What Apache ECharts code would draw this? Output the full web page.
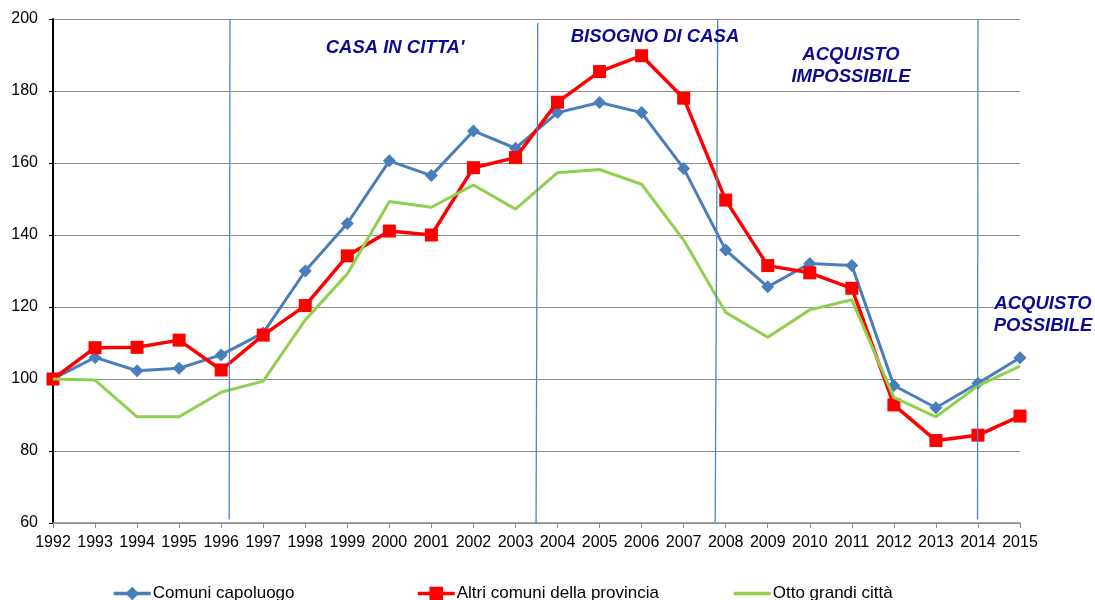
<!DOCTYPE html>
<html>
<head>
<meta charset="utf-8">
<script src="https://cdn.jsdelivr.net/npm/echarts@6/dist/echarts.min.js"></script>
<style>
  html, body { margin: 0; padding: 0; background: #fff; }
  #chart { width: 1095px; height: 600px; }
</style>
</head>
<body>
<div id="chart"></div>
<script>
// Indice dei prezzi delle abitazioni (1992 = 100)
const years = [1992, 1993, 1994, 1995, 1996, 1997, 1998, 1999, 2000, 2001, 2002, 2003,
               2004, 2005, 2006, 2007, 2008, 2009, 2010, 2011, 2012, 2013, 2014, 2015];

const comuniCapoluogo = [100, 106.0, 102.3, 103.0, 106.7, 112.8, 130.0, 143.2, 160.6, 156.5, 168.9, 164.1,
                         174.0, 176.8, 174.0, 158.5, 135.8, 125.6, 132.1, 131.5, 98.2, 92.0, 98.8, 105.9];

const altriComuni = [100, 108.7, 108.8, 110.8, 102.5, 112.2, 120.4, 134.2, 141.1, 140.0, 158.7, 161.5,
                     176.9, 185.4, 189.8, 178.0, 149.7, 131.5, 129.5, 125.2, 92.8, 82.9, 84.4, 89.7];

const ottoGrandiCitta = [100, 99.7, 89.5, 89.5, 96.3, 99.4, 116.4, 129.2, 149.3, 147.7, 153.9, 147.2,
                         157.3, 158.2, 154.1, 138.6, 118.5, 111.6, 119.2, 122.0, 94.9, 89.5, 98.1, 103.6];

const seriesNames = ['Comuni capoluogo', 'Altri comuni della provincia', 'Otto grandi città'];

// Separatori verticali tra le fasi: [anno in alto, valore in alto, anno in basso, valore in basso]
const phaseDividers = [
  [1996.21, 200.0, 1996.19, 61.0],
  [2003.53, 198.9, 2003.49, 60.0],
  [2007.81, 199.7, 2007.75, 60.3],
  [2014.00, 200.0, 2013.99, 61.0]
];

const phaseLabels = [
  { text: "CASA IN CITTA'", x: 395, y: 48 },
  { text: 'BISOGNO DI CASA', x: 655, y: 37 },
  { text: 'ACQUISTO\nIMPOSSIBILE', x: 851, y: 66 },
  { text: 'ACQUISTO\nPOSSIBILE', x: 1043, y: 315 }
];

const toPairs = arr => years.map((y, i) => [y, arr[i]]);

const chart = echarts.init(document.getElementById('chart'), null, { renderer: 'canvas' });

const font = 'Arial, "Liberation Sans", sans-serif';

chart.setOption({
  animation: false,
  backgroundColor: '#ffffff',
  grid: { left: 53, right: 75, top: 19, bottom: 77, containLabel: false },
  xAxis: {
    type: 'value',
    min: 1992,
    max: 2015,
    interval: 1,
    axisLine: { show: true, lineStyle: { color: '#8c8c8c', width: 1.5 } },
    axisTick: { show: true, length: 5, lineStyle: { color: '#8c8c8c' } },
    axisLabel: { color: '#000', fontSize: 16, fontFamily: font, margin: 12, formatter: v => String(v) },
    splitLine: { show: false }
  },
  yAxis: {
    type: 'value',
    min: 60,
    max: 200,
    interval: 20,
    axisLine: { show: true, lineStyle: { color: '#000', width: 2 } },
    axisTick: { show: true, length: 4, lineStyle: { color: '#000' } },
    axisLabel: { color: '#000', fontSize: 16, fontFamily: font, margin: 15 },
    splitLine: { show: true, lineStyle: { color: '#8c8c8c', width: 1.2 } }
  },
  legend: [
    { data: [seriesNames[0]], left: 112, top: 585 },
    { data: [seriesNames[1]], left: 416, top: 585 },
    { data: [{ name: seriesNames[2], itemStyle: { opacity: 0 } }], left: 732, top: 585 }
  ].map(l => Object.assign(l, {
    itemWidth: 37, itemHeight: 17, itemGap: 0, padding: 0,
    lineStyle: { width: 3.5 },
    textStyle: { color: '#000', fontSize: 17, fontFamily: font, padding: [0, 0, 0, -3] }
  })),
  graphic: phaseLabels.map(p => ({
    type: 'text',
    x: p.x,
    y: p.y,
    z: 100,
    style: {
      text: p.text,
      fill: '#0c0c92',
      font: 'italic bold 18.5px Arial, "Liberation Sans", sans-serif',
      align: 'center',
      verticalAlign: 'middle',
      lineHeight: 22
    }
  })),
  series: [
    {
      name: seriesNames[0],
      type: 'line',
      data: toPairs(comuniCapoluogo),
      symbol: 'diamond',
      symbolSize: 13,
      color: '#4a7ebb',
      lineStyle: { width: 3, color: '#4a7ebb' },
      itemStyle: { color: '#4a7ebb' },
      z: 2,
      markLine: {
        silent: true,
        symbol: 'none',
        label: { show: false },
        lineStyle: { color: '#4f86c6', width: 1.3, type: 'solid', opacity: 1 },
        emphasis: { disabled: true },
        data: phaseDividers.map(d => [{ coord: [d[0], d[1]] }, { coord: [d[2], d[3]] }])
      }
    },
    {
      name: seriesNames[1],
      type: 'line',
      data: toPairs(altriComuni),
      symbol: 'rect',
      symbolSize: 13,
      color: '#ff0000',
      lineStyle: { width: 3.5, color: '#ff0000' },
      itemStyle: { color: '#ff0000' },
      z: 3
    },
    {
      name: seriesNames[2],
      type: 'line',
      data: toPairs(ottoGrandiCitta),
      symbol: 'none',
      showSymbol: false,
      color: '#8fd14f',
      lineStyle: { width: 3, color: '#8fd14f' },
      z: 4
    }
  ]
});
</script>
</body>
</html>
